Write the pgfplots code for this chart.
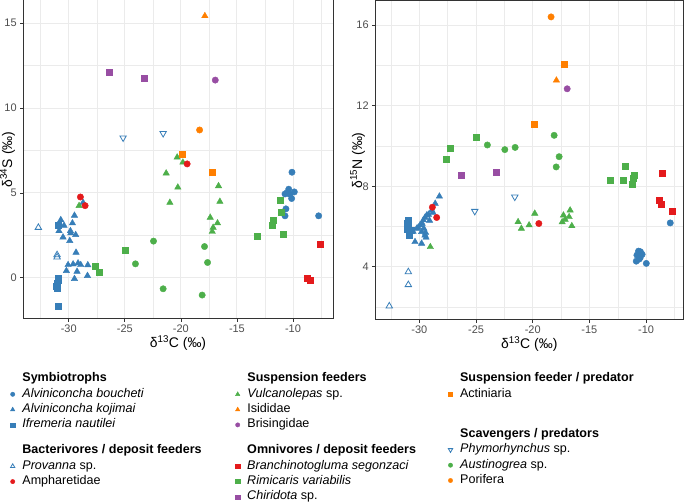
\documentclass[border=0pt]{standalone}
\usepackage{pgfplots}
\pgfplotsset{compat=1.18}
\usepackage{fontspec}
\setmainfont{Liberation Sans}
\definecolor{cBlue}{HTML}{377EB8}
\definecolor{cRed}{HTML}{E41A1C}
\definecolor{cGreen}{HTML}{4DAF4A}
\definecolor{cPurple}{HTML}{984EA3}
\definecolor{cOrange}{HTML}{FF7F00}
\definecolor{grey92}{HTML}{EBEBEB}
\definecolor{grey20}{HTML}{333333}
\definecolor{grey30}{HTML}{4D4D4D}
\pgfplotsset{
  pBou/.style={only marks, mark=*, mark size=3.2bp, cBlue},
  pKoj/.style={only marks, mark=triangle*, mark size=3.7bp, cBlue},
  pIfr/.style={only marks, mark=square*, mark size=3bp, cBlue},
  pPro/.style={only marks, mark=triangle, mark size=3.7bp, cBlue, mark options={line width=0.8bp}},
  pAmp/.style={only marks, mark=*, mark size=3.2bp, cRed},
  pVul/.style={only marks, mark=triangle*, mark size=3.7bp, cGreen},
  pIsi/.style={only marks, mark=triangle*, mark size=3.7bp, cOrange},
  pBri/.style={only marks, mark=*, mark size=3.2bp, cPurple},
  pBra/.style={only marks, mark=square*, mark size=3bp, cRed},
  pRim/.style={only marks, mark=square*, mark size=3bp, cGreen},
  pChi/.style={only marks, mark=square*, mark size=3bp, cPurple},
  pAct/.style={only marks, mark=square*, mark size=3bp, cOrange},
  pPhy/.style={only marks, mark=triangle, mark size=3.7bp, cBlue, mark options={rotate=180, line width=0.8bp}},
  pAus/.style={only marks, mark=*, mark size=3.2bp, cGreen},
  pPor/.style={only marks, mark=*, mark size=3.2bp, cOrange},
  panel/.style={
    scale only axis, anchor=south west,
    axis line style={grey20, line width=1bp},
    grid=both,
    major grid style={grey92, line width=0.9bp},
    minor grid style={grey92, line width=0.45bp},
    tick pos=left, tick align=outside,
    major tick length=2.8bp, minor tick length=0pt,
    tick style={grey20, line width=0.7bp},
    /pgf/number format/assume math mode=true,
    ticklabel style={font=\fontsize{11}{13}\selectfont, color=grey30},
    xlabel={δ\textsuperscript{13}C (‰)},
    every axis x label/.style={at={(axis description cs:0.5,0)}, anchor=north, yshift=-16bp,
      font=\fontsize{14}{16}\selectfont, inner sep=0pt},
    xtick={-30,-25,-20,-15,-10},
    minor xtick={-32.5,-27.5,-22.5,-17.5,-12.5,-7.5},
  },
  legbox/.style={
    at={(0bp,0bp)}, anchor=south west, scale only axis, width=685bp, height=502bp,
    hide axis, xmin=0, xmax=1, ymin=0, ymax=1,
    legend cell align=left,
    legend image code/.code={\draw[mark repeat=2,mark phase=2,##1, every mark/.append style={scale=0.68}] plot coordinates {(0bp,0bp)(2.5bp,0bp)(5bp,0bp)};},
    legend style={draw=none, fill=none, inner sep=0pt, outer sep=0pt, anchor=north west,
      row sep=3.3bp, column sep=0pt,
      font=\fontsize{12.6}{14}\selectfont,
      nodes={inner xsep=7.5bp, inner ysep=0pt, text height=9bp, text depth=3bp}},
  },
}
\begin{document}
\begin{tikzpicture}
\path[use as bounding box] (0bp,0bp) rectangle (685bp,502bp);
% ---------------- left panel: d13C vs d34S
\begin{axis}[panel, at={(23bp,183bp)}, width=310bp, height=319bp,
  xmin=-34.08, xmax=-6.43, ymin=-2.43, ymax=16.37,
  ytick={0,5,10,15}, minor ytick={2.5,7.5,12.5},
  ylabel={δ\textsuperscript{34}S (‰)},
  every axis y label/.style={at={(axis description cs:-0.05,0.5)}, rotate=90, anchor=center,
      font=\fontsize{14}{16}\selectfont, inner sep=0pt},
]
\addplot[pIfr] coordinates {(-30.95,3.08)(-30.95,0.0)(-30.9,-0.15)(-31.04,-0.3)(-31.1,-0.5)(-31.0,-0.6)(-30.95,-1.65)};
\addplot[pKoj] coordinates {(-30.71,3.41)(-30.42,3.08)(-30.87,2.76)(-30.51,2.39)(-29.85,2.76)(-29.82,2.63)(-29.38,2.53)(-29.91,2.18)(-29.67,3.22)(-29.49,3.67)(-29.35,1.49)(-30.06,0.76)(-29.61,0.8)(-29.17,0.86)(-28.93,0.76)(-30.21,0.41)(-29.26,0.37)(-28.3,0.75)(-28.33,0.12)(-29.49,-0.06)(-28.72,4.43)};
\addplot[pBou] coordinates {(-10.09,6.22)(-10.38,5.22)(-10.71,4.94)(-10.27,4.92)(-9.88,5.06)(-10.12,4.67)(-10.55,5.0)(-10.63,4.06)(-10.71,3.65)(-7.71,3.65)};
\addplot[pPro] coordinates {(-32.71,2.96)(-31.04,1.22)(-31.04,1.35)};
\addplot[pVul] coordinates {(-20.33,7.1)(-19.82,6.8)(-21.31,6.16)(-20.27,5.33)(-20.98,4.43)(-16.64,5.41)(-16.52,4.49)(-17.38,3.55)(-16.73,3.22)(-17.12,2.96)(-17.2,2.72)(-29.08,4.24)};
\addplot[pAmp] coordinates {(-28.96,4.76)(-28.54,4.25)(-19.44,6.71)};
\addplot[pIsi] coordinates {(-17.86,15.43)};
\addplot[pBri] coordinates {(-16.93,11.65)};
\addplot[pBra] coordinates {(-7.59,2.0)(-8.72,0.0)(-8.48,-0.16)};
\addplot[pRim] coordinates {(-27.68,0.67)(-27.32,0.35)(-25.0,1.65)(-13.21,2.45)(-11.88,3.08)(-11.76,3.37)(-10.89,2.59)(-11.01,3.84)(-11.1,4.55)};
\addplot[pChi] coordinates {(-26.43,12.12)(-23.28,11.78)};
\addplot[pAct] coordinates {(-19.88,7.31)(-17.23,6.22)};
\addplot[pPhy] coordinates {(-25.15,8.25)(-21.58,8.51)};
\addplot[pAus] coordinates {(-22.44,2.16)(-24.05,0.82)(-21.58,-0.65)(-17.89,1.84)(-17.62,0.9)(-18.1,-1.02)};
\addplot[pPor] coordinates {(-18.33,8.71)};
\end{axis}
% ---------------- right panel: d13C vs d15N
\begin{axis}[panel, at={(375bp,182bp)}, width=308.5bp, height=319bp,
  xmin=-33.91, xmax=-6.70, ymin=1.36, ymax=17.2,
  ytick={4,8,12,16}, minor ytick={2,6,10,14},
  ylabel={δ\textsuperscript{15}N (‰)},
  every axis y label/.style={at={(axis description cs:-0.0567,0.5)}, rotate=90, anchor=center,
      font=\fontsize{14}{16}\selectfont, inner sep=0pt},
]
\addplot[pIfr] coordinates {(-31.0,6.3)(-31.1,6.15)(-30.95,6.0)(-31.1,5.85)(-30.9,5.7)(-30.85,5.55)(-31.05,5.95)(-30.7,5.8)};
\addplot[pKoj] coordinates {(-28.23,7.5)(-28.6,7.14)(-28.9,6.81)(-29.35,6.56)(-29.65,6.32)(-29.94,6.07)(-30.23,5.9)(-29.8,5.74)(-29.5,5.57)(-30.38,5.24)(-29.8,5.16)(-29.2,6.6)(-29.5,6.45)(-29.1,6.3)(-29.75,6.15)(-30.1,5.95)(-30.55,5.75)(-29.45,5.7)(-29.6,5.9)(-28.8,6.7)(-29.41,5.46)};
\addplot[pBou] coordinates {(-10.67,4.78)(-10.5,4.75)(-10.81,4.58)(-10.35,4.62)(-10.52,4.45)(-10.87,4.28)(-10.62,4.38)(-9.98,4.17)(-7.87,6.18)};
\addplot[pPro] coordinates {(-30.97,3.75)(-30.97,3.11)(-32.65,2.05)};
\addplot[pVul] coordinates {(-19.82,6.65)(-21.29,6.23)(-21.0,5.9)(-20.32,6.07)(-17.29,6.56)(-16.7,6.81)(-16.79,6.48)(-17.14,6.35)(-17.4,6.22)(-16.55,6.03)(-29.03,4.99)};
\addplot[pAmp] coordinates {(-28.85,6.96)(-28.47,6.45)(-19.46,6.15)};
\addplot[pIsi] coordinates {(-17.91,13.26)};
\addplot[pBri] coordinates {(-16.96,12.84)};
\addplot[pBra] coordinates {(-8.61,8.63)(-8.84,7.31)(-8.7,7.09)(-7.73,6.78)};
\addplot[pRim] coordinates {(-24.97,10.45)(-27.26,9.88)(-27.62,9.35)(-11.85,8.98)(-13.2,8.29)(-11.98,8.3)(-11.05,8.55)(-11.2,8.12)(-11.1,8.4)};
\addplot[pChi] coordinates {(-26.32,8.56)(-23.23,8.68)};
\addplot[pAct] coordinates {(-17.26,14.06)(-19.88,11.06)};
\addplot[pPhy] coordinates {(-25.11,6.76)(-21.58,7.47)};
\addplot[pAus] coordinates {(-18.11,10.53)(-24.0,10.05)(-22.46,9.82)(-21.55,9.93)(-17.67,9.47)(-17.93,8.96)};
\addplot[pPor] coordinates {(-18.38,16.41)};
\end{axis}
% ---------------- legends
\begin{axis}[legbox, legend style={at={(0.01489,0.25697)}}]
\addlegendimage{empty legend}\addlegendentry{\textbf{Symbiotrophs}}
\addlegendimage{pBou}\addlegendentry{\textit{Alviniconcha boucheti}}
\addlegendimage{pKoj}\addlegendentry{\textit{Alviniconcha kojimai}}
\addlegendimage{pIfr}\addlegendentry{\textit{Ifremeria nautilei}}
\end{axis}
\begin{axis}[legbox, legend style={at={(0.01489,0.11355)}}]
\addlegendimage{empty legend}\addlegendentry{\textbf{Bacterivores / deposit feeders}}
\addlegendimage{pPro}\addlegendentry{\textit{Provanna} sp.}
\addlegendimage{pAmp}\addlegendentry{Ampharetidae}
\end{axis}
\begin{axis}[legbox, legend style={at={(0.34336,0.25697)}}]
\addlegendimage{empty legend}\addlegendentry{\textbf{Suspension feeders}}
\addlegendimage{pVul}\addlegendentry{\textit{Vulcanolepas} sp.}
\addlegendimage{pIsi}\addlegendentry{Isididae}
\addlegendimage{pBri}\addlegendentry{Brisingidae}
\end{axis}
\begin{axis}[legbox, legend style={at={(0.34336,0.11355)}}]
\addlegendimage{empty legend}\addlegendentry{\textbf{Omnivores / deposit feeders}}
\addlegendimage{pBra}\addlegendentry{\textit{Branchinotogluma segonzaci}}
\addlegendimage{pRim}\addlegendentry{\textit{Rimicaris variabilis}}
\addlegendimage{pChi}\addlegendentry{\textit{Chiridota} sp.}
\end{axis}
\begin{axis}[legbox, legend style={at={(0.65401,0.25697)}}]
\addlegendimage{empty legend}\addlegendentry{\textbf{Suspension feeder / predator}}
\addlegendimage{pAct}\addlegendentry{Actiniaria}
\end{axis}
\begin{axis}[legbox, legend style={at={(0.65401,0.14622)}}]
\addlegendimage{empty legend}\addlegendentry{\textbf{Scavengers / predators}}
\addlegendimage{pPhy}\addlegendentry{\textit{Phymorhynchus} sp.}
\addlegendimage{pAus}\addlegendentry{\textit{Austinogrea} sp.}
\addlegendimage{pPor}\addlegendentry{Porifera}
\end{axis}
\end{tikzpicture}
\end{document}
